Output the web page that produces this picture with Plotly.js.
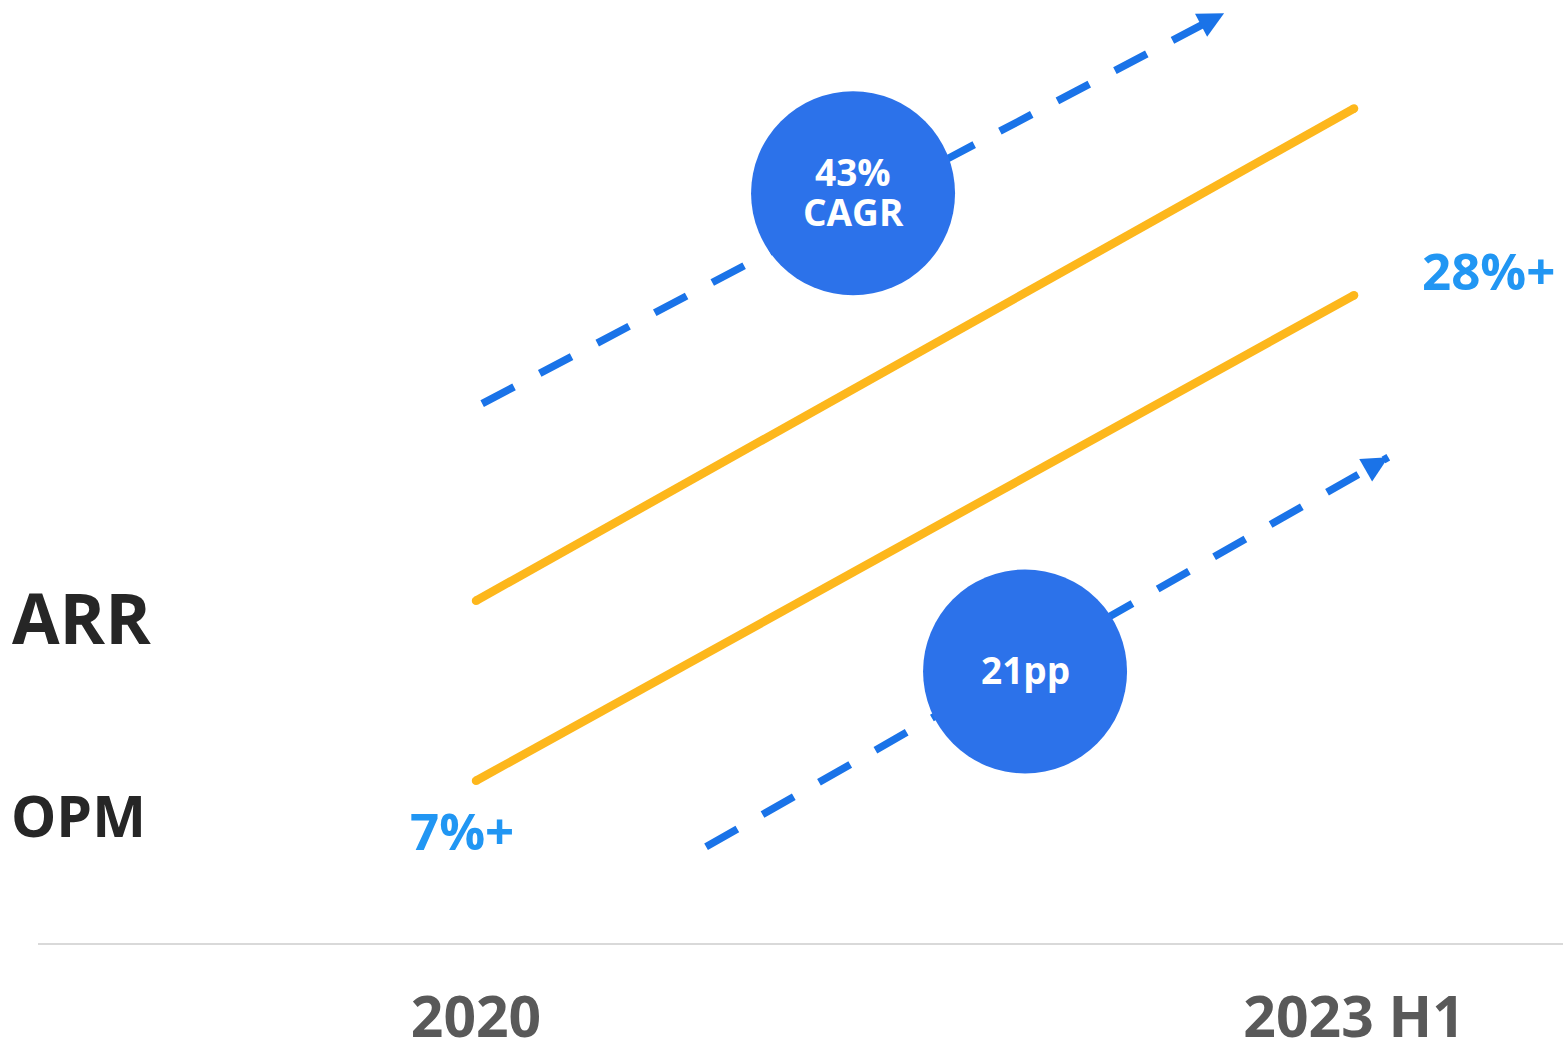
<!DOCTYPE html>
<html>
<head>
<meta charset="utf-8">
<script src="https://cdn.plot.ly/plotly-3.0.1.min.js"></script>
<style>html,body{margin:0;padding:0;background:#fff;}#chart{width:1563px;height:1045px;}</style>
</head>
<body>
<div id="chart"></div>
<script>
// ---- data (schematic levels) ----
const periods = ['2020', '2023 H1'];
const periodPos = [0, 1];
const seriesNames = ['ARR', 'OPM'];
const arrLevel = [36.3, 88.5];
const opmLevel = [17.2, 68.7];
const opmLabels = ['7%+', '28%+'];
const arrTrendX = [0.007, 0.852];
const arrTrendY = [57.2, 98.6];
const opmTrendX = [0.262, 1.039];
const opmTrendY = [10.2, 51.5];
const badgeX = [0.4294, 0.6253];
const badgeY = [79.5, 28.8];
const badgeText = ['43%<br>CAGR', '21pp'];

// ---- styles ----
const FONT = 'Open Sans, Noto Sans, DejaVu Sans, sans-serif';
const YELLOW = '#FDB71C';
const DASHBLUE = '#1A73E8';
const BADGE = '#2C72EA';
const LABELBLUE = '#2196F3';

const yellowLine = (y, name) => ({
  type: 'scatter', mode: 'lines+markers', name: name,
  x: periodPos, y: y,
  line: {color: YELLOW, width: 8.5},
  marker: {color: YELLOW, size: 8.5, line: {width: 0}},
  hoverinfo: 'skip', showlegend: false
});
const dashLine = (x, y) => ({
  type: 'scatter', mode: 'lines',
  x: x, y: y,
  line: {color: DASHBLUE, width: 7.5, dash: '36px,29px'},
  hoverinfo: 'skip', showlegend: false, cliponaxis: false
});

const traces = [
  dashLine(arrTrendX, arrTrendY),
  dashLine(opmTrendX, opmTrendY),
  yellowLine(arrLevel, seriesNames[0]),
  yellowLine(opmLevel, seriesNames[1]),
  {
    type: 'scatter', mode: 'markers',
    x: badgeX, y: badgeY,
    marker: {color: BADGE, size: 204, line: {width: 0}, opacity: 1},
    hoverinfo: 'skip', showlegend: false, cliponaxis: false
  }
];

const arrowHead = (X, Y) => ({
  x: X[1], y: Y[1], xref: 'x', yref: 'y',
  ax: X[1] - 0.03 * (X[1] - X[0]), ay: Y[1] - 0.03 * (Y[1] - Y[0]),
  axref: 'x', ayref: 'y',
  text: '', showarrow: true, arrowhead: 2, arrowwidth: 2, arrowsize: 2.6,
  arrowcolor: DASHBLUE, standoff: 0
});

const annotations = [
  arrowHead(arrTrendX, arrTrendY),
  arrowHead(opmTrendX, opmTrendY),
  {x: 0, xref: 'paper', xanchor: 'left', xshift: -28, y: arrLevel[0], yref: 'y', yshift: -16,
   text: seriesNames[0], showarrow: false,
   font: {family: FONT, size: 69, color: '#262626', weight: 'bold'}},
  {x: 0, xref: 'paper', xanchor: 'left', xshift: -29, y: opmLevel[0], yref: 'y', yshift: -34,
   text: seriesNames[1], showarrow: false,
   font: {family: FONT, size: 57, color: '#262626', weight: 'bold'}},
  {x: periodPos[0], y: opmLevel[0], xref: 'x', yref: 'y', xanchor: 'center', xshift: -14, yshift: -49,
   text: opmLabels[0], showarrow: false,
   font: {family: FONT, size: 51, color: LABELBLUE, weight: 'bold'}},
  {x: periodPos[1], y: opmLevel[1], xref: 'x', yref: 'y', xanchor: 'left', xshift: 66, yshift: 25,
   text: opmLabels[1], showarrow: false,
   font: {family: FONT, size: 51, color: LABELBLUE, weight: 'bold'}}
];

// badge texts, one annotation per line with tight line spacing
badgeText.forEach((t, i) => {
  const lines = t.split('<br>');
  const mid = (lines.length - 1) / 2;
  lines.forEach((ln, j) => {
    annotations.push({
      x: badgeX[i], y: badgeY[i], xref: 'x', yref: 'y',
      xanchor: 'center', yanchor: 'middle', yshift: (mid - j) * 40 + 2,
      text: ln, showarrow: false,
      font: {family: FONT, size: 37, color: '#FFFFFF', weight: 'bold'}
    });
  });
});

const layout = {
  width: 1563, height: 1045,
  margin: {l: 38, r: 0, t: 0, b: 102, pad: 0},
  paper_bgcolor: '#FFFFFF', plot_bgcolor: '#FFFFFF',
  showlegend: false,
  xaxis: {
    range: [-0.4989, 1.238], tickvals: periodPos, ticktext: periods,
    showline: true, linecolor: '#D9D9D9', linewidth: 2,
    showgrid: false, zeroline: false, ticks: '', ticklabelstandoff: 24,
    tickfont: {family: FONT, size: 57, color: '#595959', weight: 'bold'},
    fixedrange: true
  },
  yaxis: {range: [0, 100], visible: false, showgrid: false, zeroline: false, fixedrange: true},
  annotations: annotations
};

Plotly.newPlot('chart', traces, layout, {displayModeBar: false, staticPlot: true});
</script>
</body>
</html>
